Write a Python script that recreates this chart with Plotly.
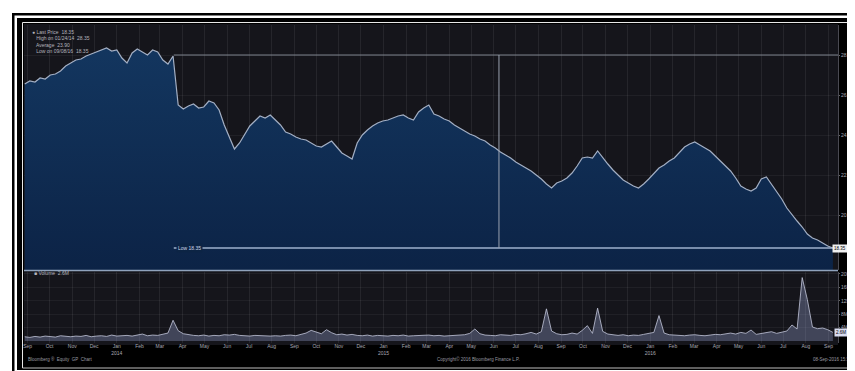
import plotly.graph_objects as go
import pandas as pd

# ---------------- data ----------------
start_date = "2013-08-28"
price = [
    26.55, 26.70, 26.65, 26.85, 26.80, 27.00, 27.05, 27.20, 27.45, 27.60,
    27.75, 27.80, 27.95, 28.05, 28.15, 28.25, 28.35, 28.20, 28.25, 27.85,
    27.60, 28.10, 28.30, 28.15, 28.00, 28.25, 28.15, 27.75, 27.55, 27.95,
    25.50, 25.30, 25.45, 25.55, 25.35, 25.40, 25.70, 25.60, 25.25, 24.50,
    23.85, 23.30, 23.60, 24.05, 24.45, 24.70, 24.95, 24.85, 25.00, 24.75,
    24.50, 24.15, 24.05, 23.90, 23.80, 23.75, 23.60, 23.45, 23.40, 23.55,
    23.70, 23.40, 23.10, 22.95, 22.80, 23.60, 24.00, 24.25, 24.45, 24.60,
    24.70, 24.75, 24.85, 24.95, 25.00, 24.85, 24.75, 25.15, 25.35, 25.50,
    25.05, 24.95, 24.80, 24.70, 24.50, 24.35, 24.20, 24.05, 23.95, 23.80,
    23.70, 23.50, 23.35, 23.15, 23.00, 22.85, 22.65, 22.50, 22.35, 22.20,
    22.00, 21.80, 21.55, 21.35, 21.60, 21.70, 21.85, 22.10, 22.45, 22.85,
    22.90, 22.85, 23.20, 22.85, 22.55, 22.25, 22.00, 21.75, 21.60, 21.45,
    21.35, 21.55, 21.80, 22.10, 22.35, 22.50, 22.70, 22.85, 23.15, 23.40,
    23.55, 23.65, 23.50, 23.35, 23.20, 22.95, 22.70, 22.50, 22.20, 21.85,
    21.45, 21.30, 21.20, 21.35, 21.80, 21.90, 21.55, 21.20, 20.80, 20.35,
    20.00, 19.70, 19.40, 19.05, 18.85, 18.75, 18.60, 18.45, 18.35,
]
volume = [
    1.3, 1.1, 1.4, 1.2, 1.5, 1.3, 1.2, 1.6, 1.4, 1.3,
    1.5, 1.4, 1.7, 1.3, 1.5, 1.6, 1.4, 1.8, 1.5, 1.6,
    1.7, 1.5, 1.9, 2.1, 1.6, 1.8, 1.7, 2.0, 2.4, 6.2,
    3.1, 2.2, 1.9, 1.7, 1.6, 1.8, 1.5, 1.7, 1.6, 1.9,
    1.8, 2.0, 1.7, 1.6, 1.5, 1.7, 1.6, 1.4, 1.5, 1.6,
    1.5, 1.7, 1.8, 1.6, 2.0, 2.4, 3.2, 2.6, 2.2, 3.4,
    2.5, 1.9, 2.1, 1.8, 2.0, 1.7, 1.6, 1.8, 1.5, 1.7,
    1.6, 1.5, 1.7, 1.6, 1.8, 1.5, 1.6, 1.7, 1.9, 1.8,
    1.6, 1.7, 1.5, 1.6, 1.8, 1.7, 1.9, 2.3, 3.6, 2.2,
    1.8, 1.7, 1.6, 1.9, 1.8, 1.7, 2.0, 1.9, 2.2, 2.6,
    2.1, 2.8, 9.6, 3.0, 2.2, 1.9, 2.0, 2.4, 2.1, 3.2,
    4.6, 2.3, 9.8, 2.9, 2.1, 1.8, 1.7, 1.9, 1.6, 1.8,
    1.7, 2.0, 2.2, 2.6, 7.6, 2.4, 1.9, 1.8, 1.7, 1.6,
    1.8, 1.9, 1.7, 1.6, 1.8, 2.0, 1.9, 2.2, 2.4, 2.1,
    2.6, 2.3, 3.3, 2.0, 2.2, 2.4, 2.8, 2.3, 2.6, 3.0,
    4.8, 3.6, 18.9, 12.4, 4.2, 3.7, 3.9, 3.4, 2.6,
]
price_ticks = [20, 22, 24, 26, 28]
price_tick_labels = ["20.00", "22.00", "24.00", "26.00", "28.00"]
vol_ticks = [4, 8, 12, 16, 20]
vol_tick_labels = ["4M", "8M", "12M", "16M", "20M"]
ref_high = 28.00
ref_low = 18.35
legend_lines = ["\u25cf Last Price  18.35", "   High on 01/24/14  28.35",
                "   Average  23.90", "   Low on 09/08/16  18.35"]

dates = pd.date_range(start_date, periods=len(price), freq="7D")
month_ticks = pd.date_range("2013-09-01", "2016-09-01", freq="MS")
month_labels = [d.strftime("%b") + ("<br>" + d.strftime("%Y") if d.month == 1 else "")
                for d in month_ticks]
x_range = ["2013-08-27", "2016-09-14"]

# ---------------- layout helpers (pixel -> paper) ----------------
W, H = 855, 371
def X(p): return p / W
def Y(p): return 1 - p / H

FONT = "Liberation Sans"
PL, PR = 16, 830          # plot area left/right in px

fig = go.Figure()

fig.add_trace(go.Scatter(
    x=dates, y=price, mode="lines", fill="tozeroy",
    line=dict(color="#a3afc4", width=1.2),
    fillgradient=dict(type="vertical", start=17.25, stop=28.4,
                      colorscale=[[0, "#0c2346"], [1, "#13365f"]]),
    xaxis="x", yaxis="y", hoverinfo="skip", showlegend=False))

fig.add_trace(go.Scatter(
    x=dates, y=volume, mode="lines", fill="tozeroy",
    line=dict(color="#c4c8dc", width=0.8),
    fillcolor="rgba(150,160,205,0.35)",
    xaxis="x2", yaxis="y2", hoverinfo="skip", showlegend=False))

shapes = [
    dict(type="rect", xref="paper", yref="paper", x0=X(4), x1=X(853), y0=Y(367), y1=Y(5),
         fillcolor="black", line_width=0, layer="below"),
    dict(type="rect", xref="paper", yref="paper", x0=X(6.5), x1=X(851), y0=Y(364.5), y1=Y(7.5),
         fillcolor="white", line_width=0, layer="below"),
    dict(type="rect", xref="paper", yref="paper", x0=X(9), x1=X(849), y0=Y(362), y1=Y(10),
         fillcolor="black", line_width=0, layer="below"),
    dict(type="rect", xref="paper", yref="paper", x0=X(PL), x1=X(PR), y0=Y(337), y1=Y(16),
         fillcolor="#15151b", line_width=0, layer="below"),
    # thin white inner frame (top, left, bottom)
    dict(type="line", xref="paper", yref="paper", x0=X(14.5), x1=X(849), y0=Y(14.5), y1=Y(14.5),
         line=dict(color="#e8e8e8", width=1)),
    dict(type="line", xref="paper", yref="paper", x0=X(14.5), x1=X(14.5), y0=Y(14.5), y1=Y(360),
         line=dict(color="#e8e8e8", width=1)),
    dict(type="line", xref="paper", yref="paper", x0=X(14.5), x1=X(849), y0=Y(360), y1=Y(360),
         line=dict(color="#bdbdbd", width=1)),
    # panel separator
    dict(type="line", xref="paper", yref="paper", x0=X(PL), x1=X(PR), y0=Y(262.5), y1=Y(262.5),
         line=dict(color="#8fa2bc", width=1.6)),
    # reference lines
    dict(type="line", xref="x", yref="y", x0="2014-03-20", x1=x_range[1], y0=ref_high, y1=ref_high,
         line=dict(color="#7d828c", width=1)),
    dict(type="line", xref="x", yref="y", x0="2014-03-20", x1=x_range[1], y0=ref_low, y1=ref_low,
         line=dict(color="#9eb0cc", width=1.4)),
    dict(type="line", xref="x", yref="y", x0="2015-06-08", x1="2015-06-08", y0=ref_low, y1=ref_high,
         line=dict(color="#9aa2b0", width=1)),
]

small = dict(family=FONT, size=5, color="#b4b4bc")
annotations = []
for k, t in enumerate(legend_lines):
    annotations.append(dict(xref="paper", yref="paper", x=X(22), y=Y(24 + 6.3 * k), text=t,
                            showarrow=False, xanchor="left", yanchor="middle", font=small))
annotations += [
    dict(xref="x", yref="y", x="2014-04-10", y=ref_low, text="Low 18.35", showarrow=False,
         font=dict(family=FONT, size=5, color="#d0d8e8"), bgcolor="#0c2444"),
    dict(xref="paper", yref="y", x=X(840), y=price[-1], text="18.35", showarrow=False,
         font=dict(family=FONT, size=4.5, color="black"), bgcolor="#f0f0f0", borderpad=1),
    dict(xref="paper", yref="y2", x=X(840), y=volume[-1], text="2.6M", showarrow=False,
         font=dict(family=FONT, size=4.5, color="black"), bgcolor="#d8dcf0", borderpad=1),
    dict(xref="paper", yref="paper", x=X(24), y=Y(270), text="\u25a0 Volume  2.6M",
         showarrow=False, xanchor="left", font=small),
    dict(xref="paper", yref="paper", x=X(18), y=Y(356), text="Bloomberg \u00ae  Equity  GP  Chart",
         showarrow=False, xanchor="left", font=dict(family=FONT, size=4.5, color="#9a9aa2")),
    dict(xref="paper", yref="paper", x=X(470), y=Y(356), text="Copyright\u00a9 2016 Bloomberg Finance L.P.",
         showarrow=False, font=dict(family=FONT, size=4.5, color="#9a9aa2")),
    dict(xref="paper", yref="paper", x=X(846), y=Y(356), text="08-Sep-2016 15:31",
         showarrow=False, xanchor="right", font=dict(family=FONT, size=4.5, color="#9a9aa2")),
]

grid = "rgba(255,255,255,0.07)"
tickfont = dict(family=FONT, size=5, color="#a8a8b2")
fig.update_layout(
    width=W, height=H, margin=dict(l=0, r=0, t=0, b=0),
    paper_bgcolor="white", plot_bgcolor="rgba(0,0,0,0)",
    shapes=shapes, annotations=annotations, showlegend=False,
    xaxis=dict(domain=[X(PL), X(PR)], range=x_range, type="date", anchor="y",
               tickvals=month_ticks, showticklabels=False, showgrid=True, gridcolor=grid,
               zeroline=False, fixedrange=True),
    xaxis2=dict(domain=[X(PL), X(PR)], range=x_range, type="date", anchor="y2", matches="x",
                tickvals=month_ticks, ticktext=month_labels, tickfont=tickfont,
                showgrid=True, gridcolor=grid, zeroline=False, ticks="", ticklabelstandoff=-1),
    yaxis=dict(domain=[Y(262), Y(17)], range=[17.25, 29.5], side="right", anchor="x",
               tickvals=price_ticks, ticktext=price_tick_labels, tickfont=tickfont,
               showgrid=True, gridcolor="rgba(255,255,255,0.05)", zeroline=False,
               showline=True, linecolor="#4a4a52", ticks="outside", ticklen=1, tickcolor="#666",
               ticklabelstandoff=0),
    yaxis2=dict(domain=[Y(335), Y(264)], range=[-0.56, 20.56], side="right", anchor="x2",
                tickvals=vol_ticks, ticktext=vol_tick_labels, tickfont=tickfont,
                showgrid=True, gridcolor="rgba(255,255,255,0.05)", zeroline=False,
                showline=True, linecolor="#4a4a52", ticks="outside", ticklen=1, tickcolor="#666",
                ticklabelstandoff=0),
)

fig.write_html("out.html")
